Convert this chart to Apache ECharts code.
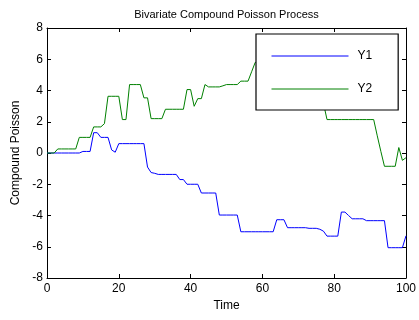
<!DOCTYPE html>
<html>
<head>
<meta charset="utf-8">
<script src="https://cdn.jsdelivr.net/npm/echarts@6/dist/echarts.min.js"></script>
<style>html,body{margin:0;padding:0;background:#fff}#c{width:419px;height:320px}</style>
</head>
<body>
<div id="c"></div>
<script>
var titleText = 'Bivariate Compound Poisson Process';
var xLabel = 'Time';
var yLabel = 'Compound Poisson';
var seriesNames = ['Y1', 'Y2'];
var xTicks = [0, 20, 40, 60, 80, 100];
var yTicks = [-8, -6, -4, -2, 0, 2, 4, 6, 8];
// values at time steps 0..100
var y1 = [
  0,0,0,0,0,0,0,0,0,0,
  0.1,0.1,0.1,
  1.3,1.3,
  1.0,1.0,1.0,
  0.2,0.05,
  0.6,0.6,0.6,0.6,0.6,0.6,0.6,0.6,
  -0.9,-1.25,-1.3,
  -1.37,-1.37,-1.37,-1.37,-1.37,-1.37,
  -1.7,-1.7,
  -2.0,-2.0,-2.0,-2.0,
  -2.56,-2.56,-2.56,-2.56,-2.56,
  -3.97,-3.97,-3.97,-3.97,-3.97,-3.97,
  -5.04,-5.04,-5.04,-5.04,-5.04,-5.04,-5.04,-5.04,-5.04,-5.04,
  -4.27,-4.27,-4.27,
  -4.78,-4.78,-4.78,-4.78,-4.78,-4.78,
  -4.82,-4.82,-4.82,
  -4.88,-5.0,
  -5.32,-5.32,-5.32,-5.32,
  -3.78,-3.78,
  -4.0,
  -4.21,-4.21,-4.21,-4.21,
  -4.33,-4.33,-4.33,-4.33,-4.33,-4.33,
  -6.06,-6.06,-6.06,-6.06,-6.06,
  -5.3
];
var y2 = [
  0,0,0,
  0.26,0.26,0.26,0.26,0.26,0.26,
  1.0,1.0,1.0,1.0,
  1.67,1.67,1.67,
  1.88,
  3.63,3.63,3.63,3.63,
  2.14,2.14,
  4.38,4.38,4.38,4.38,
  3.53,3.53,
  2.2,2.2,2.2,2.2,
  2.8,2.8,2.8,2.8,2.8,2.8,
  4.06,4.06,
  2.99,
  3.48,3.48,
  4.38,
  4.23,4.23,4.23,4.23,
  4.3,
  4.38,4.38,4.38,4.38,
  4.6,4.6,4.6,
  5.2,
  5.8,5.8,5.8,5.8,5.8,5.8,
  6.4,6.4,6.4,6.4,6.4,6.4,6.4,
  5.4,5.4,5.4,5.4,5.4,5.4,
  3.2,
  2.14,2.14,2.14,2.14,2.14,2.14,2.14,2.14,2.14,2.14,2.14,2.14,2.14,2.14,
  1.1,0.1,
  -0.85,-0.85,-0.85,-0.85,
  0.35,-0.47,-0.3
];

function pairs(arr){ var out=[]; for (var i=0;i<arr.length;i++) out.push([i, arr[i]]); return out; }

var FONT = 'Liberation Sans, Arial, sans-serif';
var chart = echarts.init(document.getElementById('c'), null, {renderer:'canvas'});
var axisLine = {show:true, onZero:false, lineStyle:{color:'#000', width:1}};
var tick = {show:true, inside:true, length:4, lineStyle:{color:'#000'}};
chart.setOption({
  animation:false,
  backgroundColor:'#fff',
  grid:{left:47, right:12, top:28, bottom:42, containLabel:false},
  xAxis:[
    {type:'value', min:xTicks[0], max:xTicks[xTicks.length-1], interval:20, position:'bottom',
     axisLine:axisLine, axisTick:tick, splitLine:{show:false},
     axisLabel:{color:'#000', fontSize:12, fontFamily:FONT, margin:5},
     name:xLabel, nameLocation:'middle', nameGap:20,
     nameTextStyle:{color:'#000', fontSize:12, fontFamily:FONT}},
    {type:'value', min:xTicks[0], max:xTicks[xTicks.length-1], interval:20, position:'top',
     axisLine:axisLine, axisTick:tick, splitLine:{show:false}, axisLabel:{show:false},
     name:titleText, nameLocation:'middle', nameGap:8,
     nameTextStyle:{color:'#000', fontSize:11, fontFamily:FONT}}
  ],
  yAxis:[
    {type:'value', min:yTicks[0], max:yTicks[yTicks.length-1], interval:2, position:'left',
     axisLine:axisLine, axisTick:tick, splitLine:{show:false},
     axisLabel:{color:'#000', fontSize:12, fontFamily:FONT, margin:4},
     name:yLabel, nameLocation:'middle', nameGap:16,
     nameTextStyle:{color:'#000', fontSize:12, fontFamily:FONT}},
    {type:'value', min:yTicks[0], max:yTicks[yTicks.length-1], interval:2, position:'right',
     axisLine:axisLine, axisTick:tick, splitLine:{show:false}, axisLabel:{show:false}}
  ],
  legend:{
    orient:'vertical', left:256, top:34,
    padding:[16, 26, 15, 15],
    itemWidth:77, itemHeight:14, itemGap:21,
    backgroundColor:'#fff', borderColor:'#000', borderWidth:1.2,
    itemStyle:{color:'rgba(0,0,0,0)', borderWidth:0, opacity:0},
    lineStyle:{width:1},
    textStyle:{color:'#000', fontSize:12, fontFamily:FONT, padding:[0,0,0,4]},
    data:seriesNames
  },
  series:[
    {name:seriesNames[0], type:'line', data:pairs(y1), symbol:'none', showSymbol:false,
     lineStyle:{color:'#0000ff', width:1}, itemStyle:{color:'#0000ff'}, z:2},
    {name:seriesNames[1], type:'line', data:pairs(y2), symbol:'none', showSymbol:false,
     lineStyle:{color:'#008000', width:1}, itemStyle:{color:'#008000'}, z:2}
  ]
});
</script>
</body>
</html>
